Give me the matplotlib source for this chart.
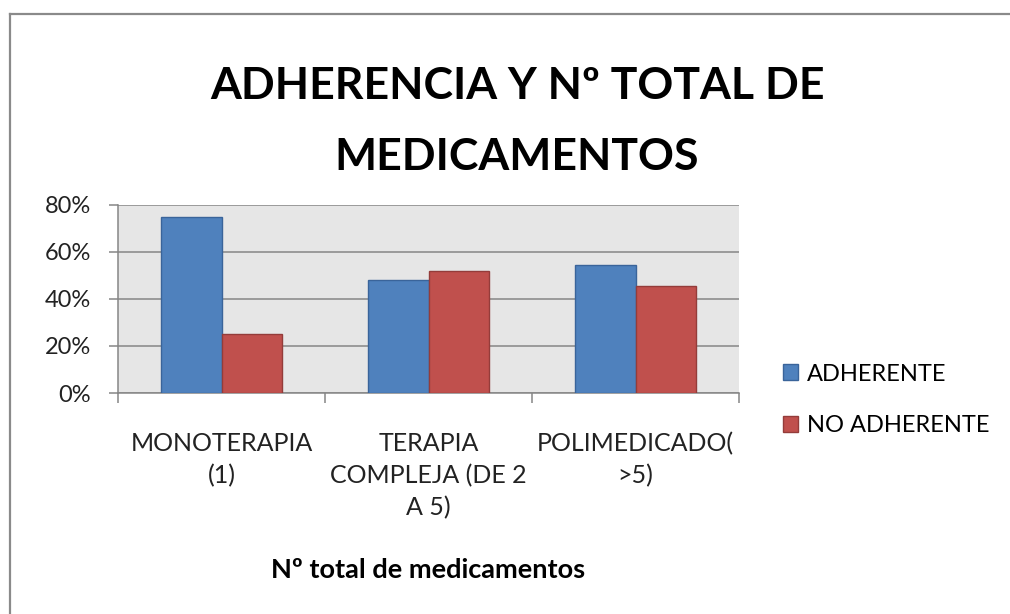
import numpy as np
import matplotlib
matplotlib.use("Agg")
import matplotlib.pyplot as plt
from matplotlib.lines import Line2D
from matplotlib.ticker import PercentFormatter, FixedLocator

plt.rcParams['font.family'] = ['Lato', 'DejaVu Sans']

# datos
categorias = ['MONOTERAPIA\n(1)', 'TERAPIA\nCOMPLEJA (DE 2\nA 5)', 'POLIMEDICADO(\n>5)']
adherente = [75, 48, 54.5]
no_adherente = [25, 52, 45.5]
series = ['ADHERENTE', 'NO ADHERENTE']

azul, azul_borde = '#4F81BD', '#3A649A'
rojo, rojo_borde = '#C0504D', '#943C3A'
gris = '#868686'

fig = plt.figure(figsize=(10.1, 6.14), dpi=100)
ax = fig.add_axes([118 / 1010, 1 - 393 / 614, 621 / 1010, 188 / 614])
ax.set_facecolor('#E6E6E6')

x = np.arange(len(categorias))
w = 0.29
ax.bar(x - w / 2, adherente, w, color=azul, edgecolor=azul_borde, linewidth=1, label=series[0], zorder=3)
ax.bar(x + w / 2, no_adherente, w, color=rojo, edgecolor=rojo_borde, linewidth=1, label=series[1], zorder=3)

ax.set_xlim(-0.5, len(categorias) - 0.5)
ax.set_ylim(0, 80)
ax.set_yticks([0, 20, 40, 60, 80])
ax.yaxis.set_major_formatter(PercentFormatter(decimals=0))
ax.grid(axis='y', color=gris, linewidth=1.1, zorder=0)

for s in ['top', 'right']:
    ax.spines[s].set_visible(False)
for s in ['left', 'bottom']:
    ax.spines[s].set_color(gris)
    ax.spines[s].set_linewidth(1.1)

ax.tick_params(axis='y', length=6.5, width=1.1, color=gris, labelsize=17, pad=13, labelcolor='#222222')
ax.set_xticks(x)
ax.set_xticklabels(categorias, fontsize=18, linespacing=1.45, color='#222222')
ax.tick_params(axis='x', which='major', length=0, pad=28)
ax.xaxis.set_minor_locator(FixedLocator(np.arange(-0.5, len(categorias), 1)))
ax.tick_params(axis='x', which='minor', length=7, width=1.1, color=gris)

# título y rótulo del eje
fig.text(517 / 1010, 1 - 99 / 614, 'ADHERENCIA Y Nº TOTAL DE', ha='center', va='baseline',
         fontsize=32, fontweight='bold', color='black')
fig.text(517 / 1010, 1 - 170 / 614, 'MEDICAMENTOS', ha='center', va='baseline',
         fontsize=32, fontweight='bold', color='black')
fig.text(428 / 1010, 1 - 578 / 614, 'Nº total de medicamentos', ha='center', va='baseline',
         fontsize=19.5, fontweight='bold', color='black')

fig.legend(loc='center left', bbox_to_anchor=(783 / 1010, 1 - 400 / 614), frameon=False,
           fontsize=17, handlelength=0.65, handleheight=0.65, handletextpad=0.35,
           labelspacing=1.3, borderpad=0, borderaxespad=0)

# marco del gráfico
fig.add_artist(Line2D([9.5 / 1010, 9.5 / 1010], [0, 1 - 14 / 614], color='#8A8A8A', linewidth=1.6))
fig.add_artist(Line2D([9.5 / 1010, 1], [1 - 14 / 614, 1 - 14 / 614], color='#8A8A8A', linewidth=1.6))

fig.savefig('out.png', dpi=100, facecolor='white')
